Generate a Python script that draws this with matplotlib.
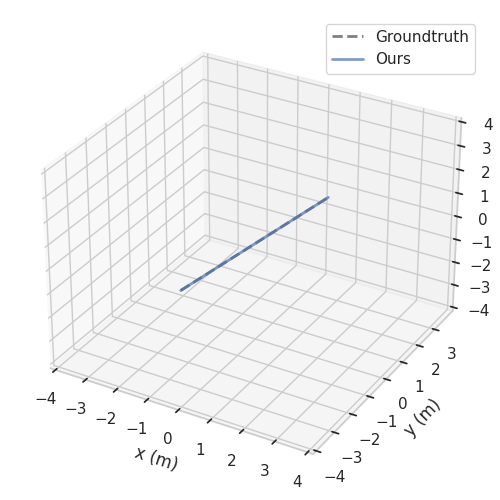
import numpy as np
import matplotlib
matplotlib.use("Agg")
import matplotlib.pyplot as plt
import seaborn as sns

sns.set_theme(style="whitegrid")
plt.rcParams["axes3d.automargin"] = True

gt_x = [-1.13, 1.13]
gt_y = [-2.13, 2.13]
gt_z = [-1.0, 1.0]
ours_x = [-1.13, 1.13]
ours_y = [-2.13, 2.13]
ours_z = [-1.0, 1.0]

x_ticks = [-4, -3, -2, -1, 0, 1, 2, 3, 4]
y_ticks = [-4, -3, -2, -1, 0, 1, 2, 3]
z_ticks = [-4, -3, -2, -1, 0, 1, 2, 3, 4]

fig = plt.figure(figsize=(5, 5), dpi=100)
ax = fig.add_subplot(111, projection="3d")
ax.set_position([0.028, 0.033, 0.94, 0.935])
ax.plot(gt_x, gt_y, gt_z, "--", color="gray", lw=2, label="Groundtruth")
ax.plot(ours_x, ours_y, ours_z, "-", color="#4c72b0", lw=2, alpha=0.7, label="Ours")
ax.set_xlim(-4, 4)
ax.set_ylim(-4, 4)
ax.set_zlim(-4, 4)
ax.set_xticks(x_ticks)
ax.set_yticks(y_ticks)
ax.set_zticks(z_ticks)
ax.set_xlabel("x (m)")
ax.set_ylabel("y (m)")
ax.legend(loc="upper right")
fig.savefig("out.png", dpi=100)
